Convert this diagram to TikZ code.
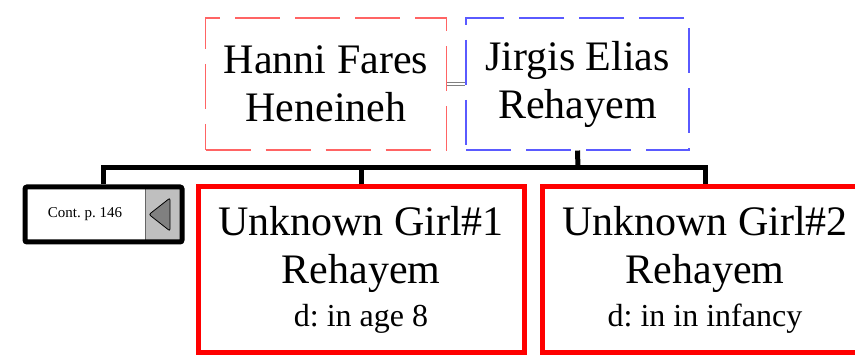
\documentclass[tikz,border=0pt]{standalone}
\usepackage{fontspec}
\setmainfont{Liberation Serif}
\usepackage{tikz}
\frenchspacing

\definecolor{wifered}{RGB}{255,100,100}
\definecolor{husbandblue}{RGB}{90,90,255}

\tikzset{
  namebox/.style={rectangle, inner sep=0pt, align=center, font=\fontsize{42}{48}\selectfont},
  wifebox/.style={namebox, draw=wifered, line width=1.1pt, dash pattern=on 45pt off 15pt},
  husbandbox/.style={namebox, draw=husbandblue, line width=1.1pt, dash pattern=on 45pt off 15pt},
  childbox/.style={namebox, draw=red, line width=5pt, minimum width=326pt, minimum height=166pt},
  contbox/.style={rectangle, draw=black, line width=5pt, rounded corners=2pt, inner sep=0pt,
    minimum width=157pt, minimum height=55pt, font=\fontsize{15}{18}\selectfont},
  treeline/.style={draw=black, line width=5pt},
  marriage/.style={draw=gray, double=white, double distance=2pt, line width=0.8pt}
}

\begin{document}
\begin{tikzpicture}[x=1pt, y=-1pt]
                    \useasboundingbox (0,0) rectangle (855,358);
                    \clip (0,0) rectangle (855,358);
                    % Nodes
                    \node[wifebox, minimum width=241pt, minimum height=132pt] (hanni) at (326,84) {Hanni Fares\\Heneineh};
                    \node[husbandbox, minimum width=223pt, minimum height=132pt] (jirgis) at (577.5,84) {Jirgis Elias\\Rehayem};
                    \node[contbox, path picture={
                        \fill[gray!50] ([xshift=-37pt]path picture bounding box.north east) rectangle (path picture bounding box.south east);
                        \draw[gray!80!black, line width=0.6pt] ([xshift=-37pt]path picture bounding box.north east) -- ([xshift=-37pt]path picture bounding box.south east);
                        \draw[fill=gray, line width=0.8pt] ([xshift=-33pt]path picture bounding box.east)
                          -- ([xshift=-12pt, yshift=16.5pt]path picture bounding box.east)
                          -- ([xshift=-12pt, yshift=-16.5pt]path picture bounding box.east) -- cycle;
                      }] (cont) at (103.5,214.5) {\hspace*{-37pt}Cont. p. 146};
                    \node[childbox] (girlone) at (361,270) {Unknown Girl\#1\\Rehayem\\[-5pt]{\fontsize{32}{38}\selectfont d: in age 8}};
                    \node[childbox] (girltwo) at (705,270) {Unknown Girl\#2\\Rehayem\\[-5pt]{\fontsize{32}{38}\selectfont d: in in infancy}};
                    \coordinate (bar) at (578,168);
                    % Edges
                    \draw[marriage] (hanni) -- (jirgis);
                    \draw[treeline] (jirgis.south) -- (bar);
                    \draw[treeline] (cont.north) |- (bar) -| (girltwo.north);
                    \draw[treeline] (girlone.north) -- (girlone.north |- bar);
                \end{tikzpicture}
\end{document}
